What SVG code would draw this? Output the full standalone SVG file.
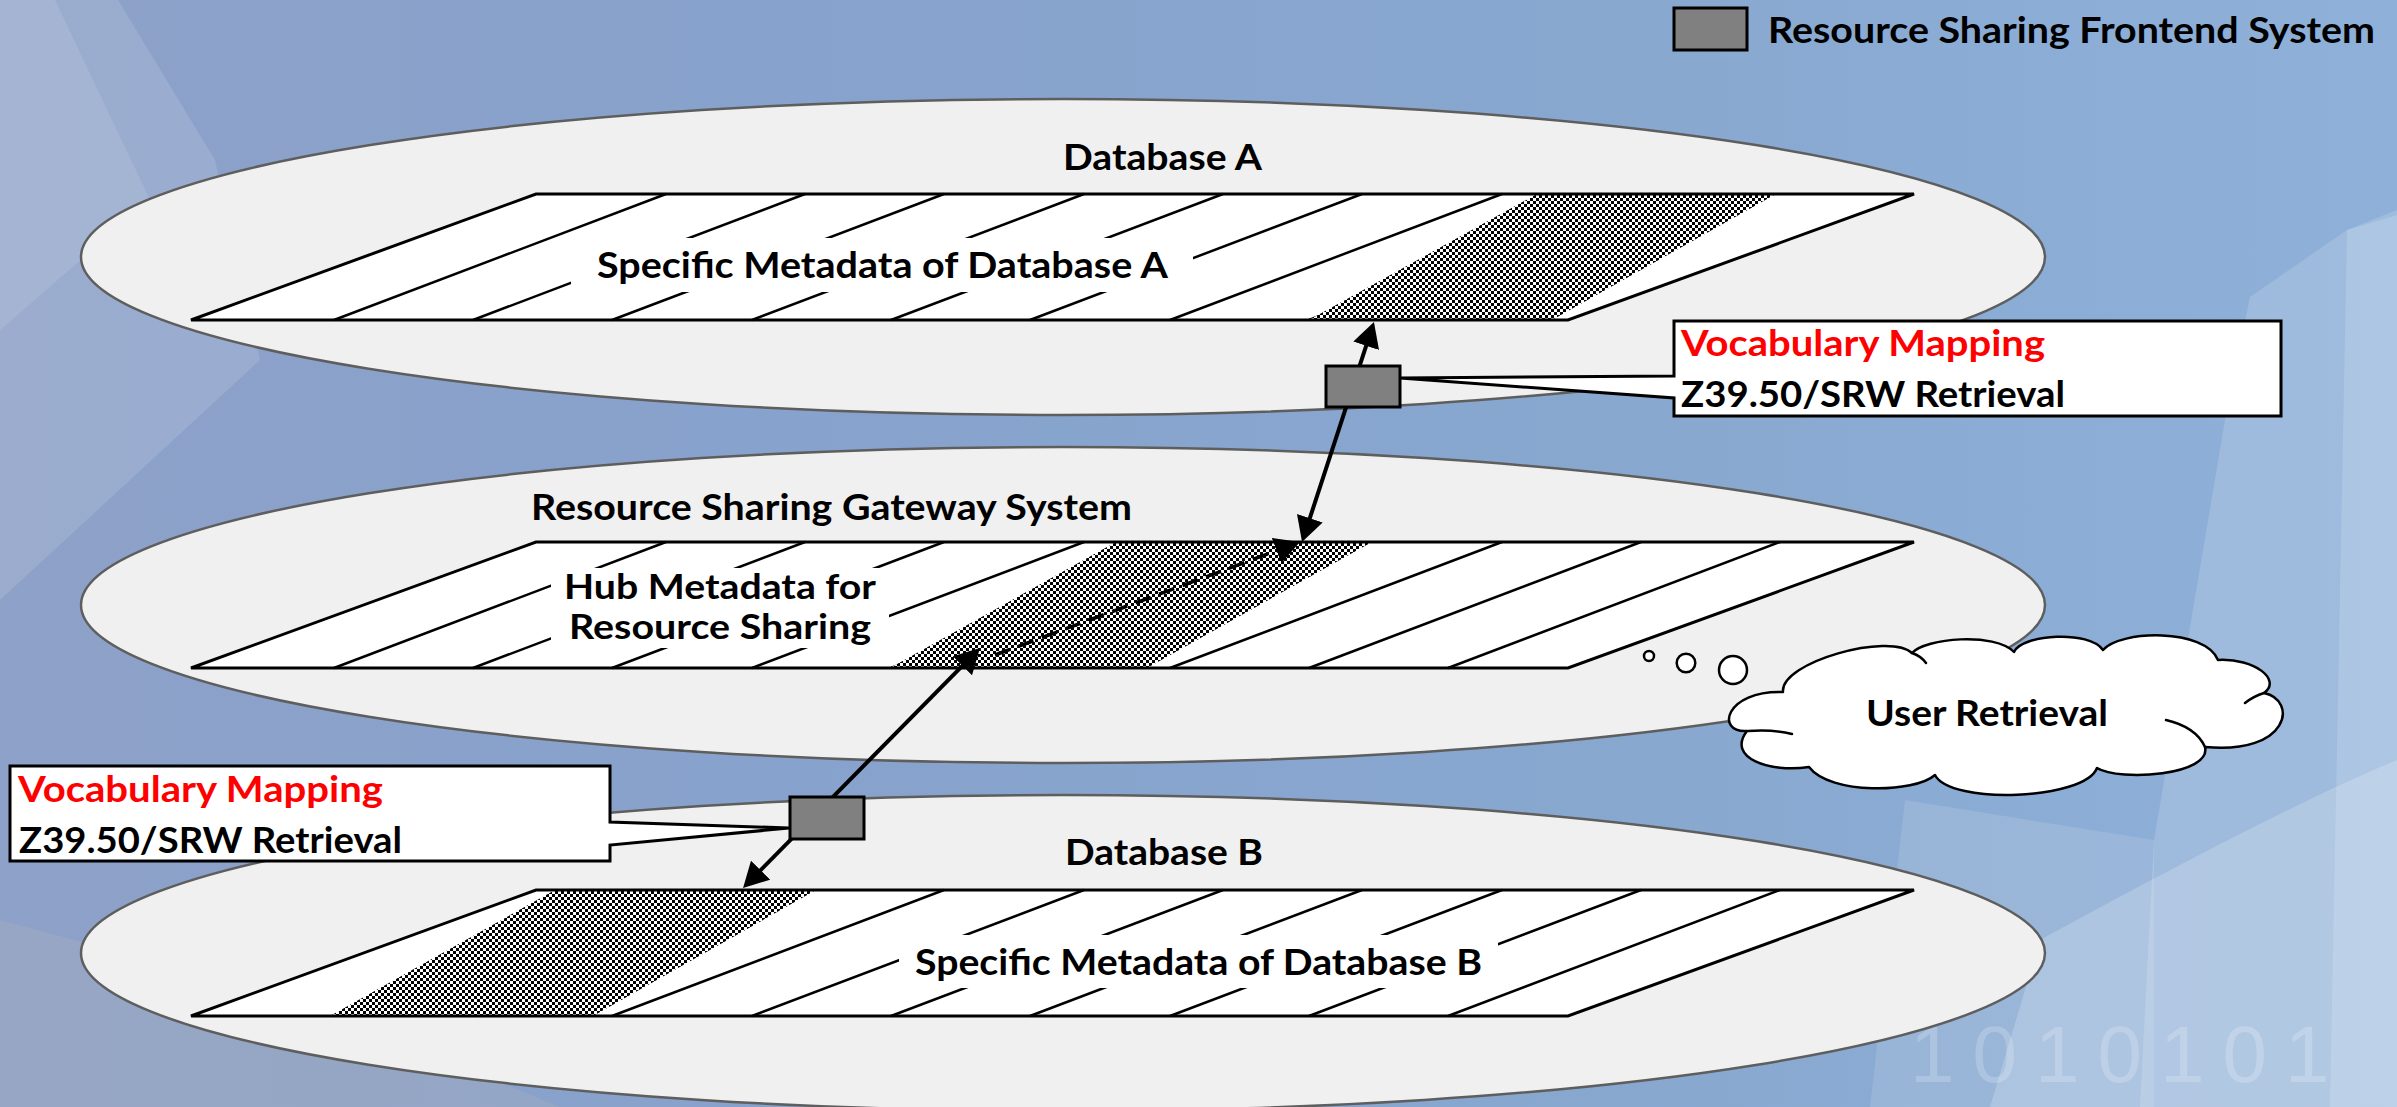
<svg xmlns="http://www.w3.org/2000/svg" width="2397" height="1107" viewBox="0 0 2397 1107">
  <defs>
    <style>
      .ell { fill:#F0F0F0; stroke:#5E5E5E; stroke-width:2.5; }
      .plate { fill:#FFFFFF; }
      .plate-edge { fill:none; stroke:#000; stroke-width:3; stroke-linejoin:miter; }
      .stripe { fill:none; stroke:#000; stroke-width:2.5; }
      .mask { fill:#FFFFFF; }
      .hatch { fill:url(#checker); }
      .lbl { font-family:"Lato","Open Sans","Liberation Sans",sans-serif; font-weight:700; font-size:36px; fill:#000; }
      .lbl-sm { font-size:34px; }
      .red { fill:#FF0000; }
      .fe { fill:#808080; stroke:#000; stroke-width:3; }
      .callout { fill:#FFFFFF; stroke:#000; stroke-width:3; stroke-linejoin:miter; }
      .conn { fill:none; stroke:#000; stroke-width:4; }
      .dash { stroke-width:3.5; stroke-dasharray:16 9; }
      .cloud { fill:#FFFFFF; stroke:#000; stroke-width:2.5; stroke-linejoin:round; }
      .cloud-in { fill:none; stroke:#000; stroke-width:2.5; stroke-linecap:round; }
    </style>
    <linearGradient id="bgGrad" x1="0" y1="0" x2="1" y2="0">
      <stop offset="0" stop-color="#8EA1C8"/>
      <stop offset="0.3" stop-color="#87A2CC"/>
      <stop offset="0.7" stop-color="#88A8D0"/>
      <stop offset="1" stop-color="#8FB1D9"/>
    </linearGradient>
    <pattern id="checker" width="6" height="6" patternUnits="userSpaceOnUse">
      <rect width="6" height="6" fill="#FFFFFF"/>
      <rect width="3" height="3" fill="#000"/>
      <rect x="3" y="3" width="3" height="3" fill="#000"/>
    </pattern>
    <marker id="head" markerUnits="userSpaceOnUse" markerWidth="25" markerHeight="27" viewBox="0 0 25 27" refX="2" refY="13.5" orient="auto-start-reverse">
      <path d="M0,0 L25,13.5 L0,27 Z" fill="#000"/>
    </marker>
  </defs>

  <!-- backdrop -->
  <g id="background">
    <rect width="2397" height="1107" fill="url(#bgGrad)"/>
    <path d="M0,0 L118,0 L215,160 L260,360 L0,600 Z" fill="#FFFFFF" opacity="0.12"/>
    <path d="M0,0 L55,0 L150,200 L0,330 Z" fill="#FFFFFF" opacity="0.1"/>
    <path d="M2250,297 L2347,230 L2397,215 L2397,1107 L2140,1107 L2154,840 L2225,420 Z" fill="#FFFFFF" opacity="0.15"/>
    <path d="M2347,230 L2397,210 L2397,1107 L2330,1107 Z" fill="#FFFFFF" opacity="0.15"/>
    <path d="M1905,800 L2154,840 L2154,1107 L1870,1107 Z" fill="#FFFFFF" opacity="0.12"/>
    <path d="M2040,940 C2150,880 2300,800 2397,760 L2397,1107 L1990,1107 Z" fill="#FFFFFF" opacity="0.2"/>
    <path d="M0,920 L300,1000 L560,1107 L0,1107 Z" fill="#A9AFBD" opacity="0.35"/>
    <text x="1910" y="1082" font-family="Liberation Sans, Arial, sans-serif" font-size="80" letter-spacing="18" fill="#FFFFFF" opacity="0.2">1010101</text>
  </g>

  <!-- Database A layer -->
  <g id="db-a">
    <ellipse class="ell" cx="1063" cy="257" rx="982" ry="158"/>
    <polygon class="plate" points="191,320 536,194 1914,194 1568,320"/>
    <path class="stripe" d="M334,320L666,194 M473,320L805,194 M612,320L944,194 M752,320L1084,194 M891,320L1223,194 M1030,320L1362,194 M1170,320L1502,194 M1309,320L1641,194"/>
    <rect class="mask" x="571" y="238" width="622" height="54"/>
    <polygon class="hatch" points="1309,320 1537,194 1776,194 1552,320"/>
    <polygon class="plate-edge" points="191,320 536,194 1914,194 1568,320"/>
    <text class="lbl" x="1063" y="170" textLength="199" lengthAdjust="spacingAndGlyphs">Database A</text>
    <text class="lbl" x="597" y="278" textLength="571" lengthAdjust="spacingAndGlyphs">Specific Metadata of Database A</text>
  </g>

  <!-- Gateway layer -->
  <g id="gateway">
    <ellipse class="ell" cx="1063" cy="605" rx="982" ry="158"/>
    <polygon class="plate" points="191,668 536,542 1914,542 1568,668"/>
    <path class="stripe" d="M334,668L666,542 M473,668L805,542 M612,668L944,542 M752,668L1084,542 M891,668L1223,542 M1030,668L1362,542 M1170,668L1502,542 M1309,668L1641,542 M1448,668L1780,542"/>
    <rect class="mask" x="551" y="568" width="338" height="80"/>
    <polygon class="hatch" points="890,668 1116,542 1372,542 1147,668"/>
    <polygon class="plate-edge" points="191,668 536,542 1914,542 1568,668"/>
    <text class="lbl" x="531" y="520" textLength="601" lengthAdjust="spacingAndGlyphs">Resource Sharing Gateway System</text>
    <text class="lbl lbl-sm" x="564" y="599" textLength="312" lengthAdjust="spacingAndGlyphs">Hub Metadata for</text>
    <text class="lbl lbl-sm" x="569" y="639" textLength="302" lengthAdjust="spacingAndGlyphs">Resource Sharing</text>
  </g>

  <!-- Database B layer -->
  <g id="db-b">
    <ellipse class="ell" cx="1063" cy="953" rx="982" ry="158"/>
    <polygon class="plate" points="191,1016 536,890 1914,890 1568,1016"/>
    <path class="stripe" d="M334,1016L666,890 M473,1016L805,890 M612,1016L944,890 M752,1016L1084,890 M891,1016L1223,890 M1030,1016L1362,890 M1170,1016L1502,890 M1309,1016L1641,890 M1448,1016L1780,890"/>
    <rect class="mask" x="899" y="935" width="599" height="53"/>
    <polygon class="hatch" points="330,1016 555,890 816,890 593,1016"/>
    <polygon class="plate-edge" points="191,1016 536,890 1914,890 1568,1016"/>
    <text class="lbl" x="1065" y="865" textLength="198" lengthAdjust="spacingAndGlyphs">Database B</text>
    <text class="lbl" x="915" y="975" textLength="567" lengthAdjust="spacingAndGlyphs">Specific Metadata of Database B</text>
  </g>

  <!-- connectors -->
  <g id="connectors">
    <line class="conn" x1="1366.8" y1="343.9" x2="1309.2" y2="520.1" marker-start="url(#head)" marker-end="url(#head)"/>
    <line class="conn" x1="963.8" y1="664.4" x2="759.2" y2="871.6" marker-start="url(#head)" marker-end="url(#head)"/>
    <line class="conn dash" x1="995" y1="655" x2="1278.4" y2="550" marker-end="url(#head)"/>
  </g>

  <!-- callouts -->
  <g id="callout-a">
    <path class="callout" d="M1674,321 H2281 V416 H1674 V398 L1400,378 L1674,376 Z"/>
    <text class="lbl red" x="1681" y="356" textLength="364" lengthAdjust="spacingAndGlyphs">Vocabulary Mapping</text>
    <text class="lbl" x="1681" y="407" textLength="384" lengthAdjust="spacingAndGlyphs">Z39.50/SRW Retrieval</text>
  </g>
  <g id="callout-b">
    <path class="callout" d="M10,766 H610 V822 L789,828 L610,845 V861 H10 Z"/>
    <text class="lbl red" x="18" y="802" textLength="365" lengthAdjust="spacingAndGlyphs">Vocabulary Mapping</text>
    <text class="lbl" x="19" y="853" textLength="383" lengthAdjust="spacingAndGlyphs">Z39.50/SRW Retrieval</text>
  </g>

  <!-- frontend systems -->
  <g id="frontend-a">
    <rect class="fe" x="1326" y="366" width="74" height="41"/>
  </g>
  <g id="frontend-b">
    <rect class="fe" x="790" y="797" width="74" height="42"/>
  </g>

  <!-- user retrieval thought cloud -->
  <g id="user-retrieval">
    <circle class="cloud" cx="1649" cy="656" r="5"/>
    <circle class="cloud" cx="1686" cy="663" r="9.3"/>
    <circle class="cloud" cx="1733" cy="670" r="14"/>
    <path class="cloud" d="M1747,731 C1715,733 1725,690 1783,692 C1780,662 1890,632 1912,653 C1925,638 1995,632 2014,652 C2022,634 2090,630 2103,650 C2120,630 2205,628 2218,660 C2255,658 2282,680 2264,693 C2298,700 2290,755 2205,747 C2212,775 2120,782 2097,768 C2085,800 1950,805 1935,775 C1915,793 1830,795 1809,767 C1770,773 1726,758 1747,731 Z"/>
    <path class="cloud-in" d="M1748,731 Q1772,729 1792,734 M1912,653 Q1921,656 1926,663 M2264,693 Q2254,696 2245,703 M2166,720 Q2196,727 2205,747"/>
    <text class="lbl" x="1866" y="726" textLength="242" lengthAdjust="spacingAndGlyphs">User Retrieval</text>
  </g>

  <!-- legend -->
  <g id="legend">
    <rect class="fe" x="1674" y="8" width="73" height="42"/>
    <text class="lbl" x="1768" y="43" textLength="607" lengthAdjust="spacingAndGlyphs">Resource Sharing Frontend System</text>
  </g>
</svg>
